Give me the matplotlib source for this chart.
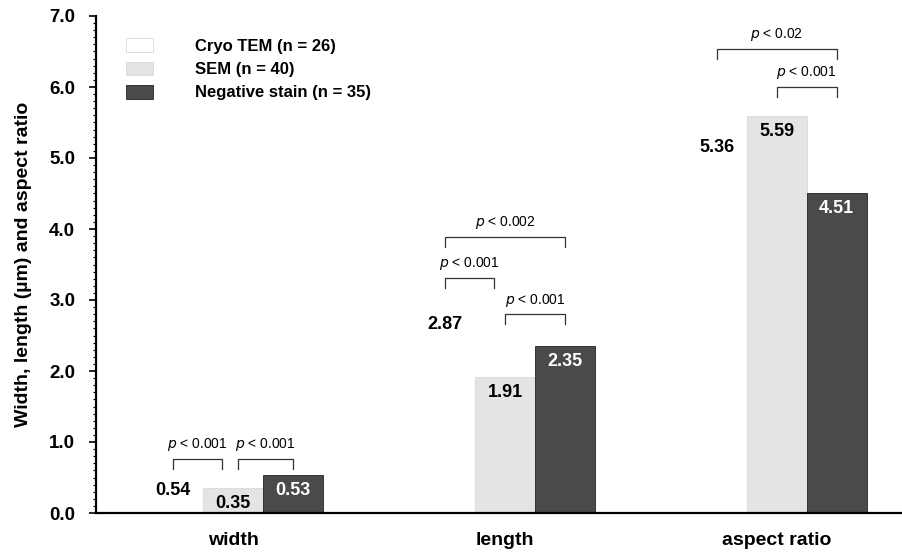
import numpy as np
import matplotlib.pyplot as plt
from matplotlib.ticker import MultipleLocator

plt.rcParams['font.family'] = ['Liberation Sans', 'DejaVu Sans']

categories = ['width', 'length', 'aspect ratio']
series = ['Cryo TEM (n = 26)', 'SEM (n = 40)', 'Negative stain (n = 35)']
cryo = [0.54, 2.87, 5.36]
sem = [0.35, 1.91, 5.59]
neg = [0.53, 2.35, 4.51]

# (group, bar_a, bar_b, bracket height, label)
brackets = [
    (0, 0, 1, 0.76, 'p < 0.001'),
    (0, 1, 2, 0.76, 'p < 0.001'),
    (1, 0, 2, 3.89, 'p < 0.002'),
    (1, 0, 1, 3.31, 'p < 0.001'),
    (1, 1, 2, 2.80, 'p < 0.001'),
    (2, 0, 2, 6.54, 'p < 0.02'),
    (2, 1, 2, 6.00, 'p < 0.001'),
]

colors = ['white', '#e4e4e4', '#4a4a4a']
edges = ['white', '#d8d8d8', '#222222']
txtcol = ['black', 'black', 'white']

fig = plt.figure(figsize=(9.02, 5.54), dpi=100)
ax = fig.add_axes([96 / 902, 41 / 554, 1 - 96 / 902, 497 / 554])

w = 0.22
x = np.arange(len(categories))
vals = [cryo, sem, neg]
for j in range(3):
    xs = x + (j - 1) * w
    ax.bar(xs, vals[j], w, color=colors[j], edgecolor=edges[j], linewidth=0.6,
           label=series[j], zorder=2)
    for xi, v in zip(xs, vals[j]):
        ax.annotate('%.2f' % v, (xi, v), xytext=(0, -5), textcoords='offset points',
                    ha='center', va='top', fontsize=13, fontweight='bold',
                    color=txtcol[j], zorder=3)

for g, a, b, h, lab in brackets:
    xa = g + (a - 1) * w
    xb = g + (b - 1) * w
    if a == 1 and g == 0:
        xa += 0.02
    if b == 1:
        xb -= 0.04
    ax.plot([xa, xa, xb, xb], [h - 0.14, h, h, h - 0.14], color='#333333', lw=0.9,
            zorder=3)
    ax.text((xa + xb) / 2, h + 0.08, '$p$' + lab[1:], ha='center', va='bottom',
            fontsize=10)

ax.set_xlim(-0.504, 2.46)
ax.set_ylim(0, 7)
ax.yaxis.set_major_locator(MultipleLocator(1))
ax.yaxis.set_minor_locator(MultipleLocator(0.1))
ax.set_yticks(np.arange(0, 7.1, 1))
ax.set_yticklabels(['%.1f' % t for t in np.arange(0, 7.1, 1)], fontsize=13.5,
                   fontweight='bold')
ax.tick_params(axis='y', which='major', length=5, width=1.2, pad=10)
ax.tick_params(axis='y', which='minor', length=2.5, width=0.8)
ax.set_xticks(x)
ax.set_xticklabels(categories, fontsize=14, fontweight='bold')
ax.tick_params(axis='x', length=0, pad=14)
ax.set_ylabel('Width, length (µm) and aspect ratio', fontsize=14,
              fontweight='bold', labelpad=12)
for s in ['top', 'right']:
    ax.spines[s].set_visible(False)
ax.spines['left'].set_linewidth(1.6)
ax.spines['bottom'].set_linewidth(1.6)

leg = ax.legend(loc='upper left', bbox_to_anchor=(0.019, 0.985), frameon=False,
                prop={'weight': 'bold', 'size': 12}, handlelength=1.6,
                handleheight=0.9, handletextpad=2.5, labelspacing=0.45)
leg.legend_handles[0].set_edgecolor('#d0d0d0')
leg.legend_handles[0].set_linewidth(0.5)

fig.savefig('out.png', dpi=100)
